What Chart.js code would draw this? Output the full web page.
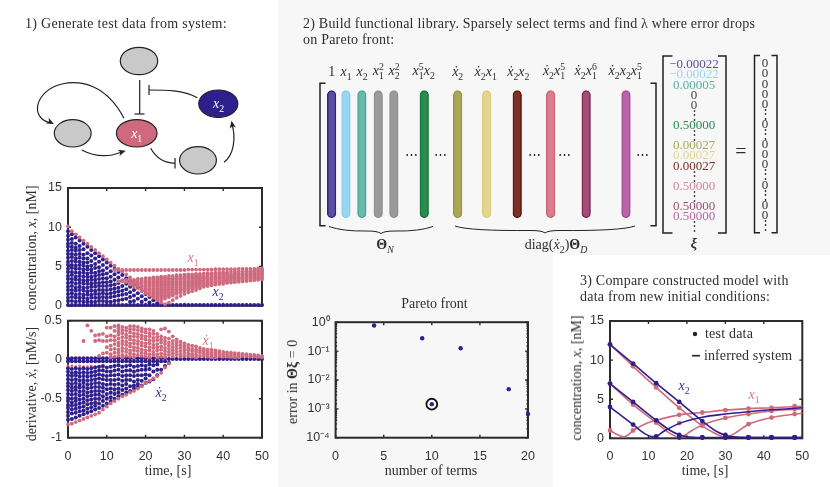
<!DOCTYPE html>
<html>
<head>
<meta charset="utf-8">
<script src="https://cdn.jsdelivr.net/npm/chart.js@4"></script>
<style>
  html, body { margin: 0; padding: 0; background: #fff; }
  #page { position: relative; width: 830px; height: 487px; overflow: hidden; background: #fff; }
  .panel { position: absolute; background: #f7f7f7; }
  canvas { position: absolute; }
  .t { position: absolute; font-family: "Liberation Serif", serif; font-size: 14px; color: #2e2e2e; white-space: nowrap; line-height: 1; }
  .c { transform: translate(-50%, -50%); }
  .r { transform: translate(-50%, -50%) rotate(-90deg); }
  sub, sup { font-size: 70%; line-height: 0; }
  .ss { display: inline-flex; flex-direction: column; vertical-align: middle; font-size: 70%; line-height: .95; margin-top: -1px; }
  .pink { color: #d3778a; }
  .blue { color: #3a2b92; }
</style>
</head>
<body>
<div id="page">
  <div class="panel" style="left:278px;top:0;width:552px;height:255px"></div>
  <div class="panel" style="left:278px;top:255px;width:275px;height:232px"></div>

  <canvas id="concChart" width="275" height="135" style="left:0;top:180px"></canvas>
  <canvas id="derivChart" width="275" height="155" style="left:0;top:315px"></canvas>
  <canvas id="libraryChart" width="330" height="140" style="left:316px;top:85px"></canvas>
  <canvas id="paretoChart" width="262" height="155" style="left:278px;top:315px"></canvas>
  <canvas id="compareChart" width="260" height="155" style="left:550px;top:315px"></canvas>
  <canvas id="sketchChart" width="830" height="487" style="left:0;top:0"></canvas>

  <div class="t" style="left:25px;top:17px;letter-spacing:.28px">1) Generate test data from system:</div>
  <div class="t" style="left:303px;top:17px;letter-spacing:.22px">2) Build functional library. Sparsely select terms and find λ where error drops</div>
  <div class="t" style="left:303px;top:33px;letter-spacing:.22px">on Pareto front:</div>
  <div class="t" style="left:580px;top:274px;letter-spacing:.22px">3) Compare constructed model with</div>
  <div class="t" style="left:580px;top:290px;letter-spacing:.22px">data from new initial conditions:</div>

  <div class="t c" style="left:136.7px;top:133.5px;color:#fff"><i>x</i><sub>1</sub></div>
  <div class="t c" style="left:218.5px;top:104px;color:#fff"><i>x</i><sub>2</sub></div>

  <div class="t r" style="left:32px;top:248px">concentration, <i>x</i>, [nM]</div>
  <div class="t r" style="left:32px;top:384px">derivative, <i>ẋ</i>, [nM/s]</div>
  <div class="t r" style="left:292.5px;top:382px">error in <b>Θξ</b> = 0</div>
  <div class="t r" style="left:576.5px;top:378px">concentration, <i>x</i>, [nM]</div>
  <div class="t c" style="left:168px;top:470.5px">time, [s]</div>
  <div class="t c" style="left:431px;top:471px">number of terms</div>
  <div class="t c" style="left:705px;top:470.5px">time, [s]</div>
  <div class="t c" style="left:434.5px;top:304px">Pareto front</div>

  <div class="t c pink" style="left:193px;top:258px"><i>x</i><sub>1</sub></div>
  <div class="t c blue" style="left:218px;top:292px"><i>x</i><sub>2</sub></div>
  <div class="t c pink" style="left:208px;top:341px"><i>ẋ</i><sub>1</sub></div>
  <div class="t c blue" style="left:161px;top:393px"><i>ẋ</i><sub>2</sub></div>
  <div class="t c blue" style="left:684px;top:386px"><i>x</i><sub>2</sub></div>
  <div class="t c pink" style="left:754px;top:395px"><i>x</i><sub>1</sub></div>
  <div class="t" style="left:705px;top:327px;letter-spacing:.2px">test data</div>
  <div class="t" style="left:704px;top:349px;letter-spacing:.1px">inferred system</div>

  <div class="t c" style="left:385px;top:245px"><b>Θ</b><sub><i>N</i></sub></div>
  <div class="t c" style="left:556px;top:245px">diag(<i>ẋ</i><sub>2</sub>)<b>Θ</b><sub><i>D</i></sub></div>
  <div class="t c" style="left:694px;top:244px;font-size:14px"><b><i>ξ</i></b></div>
  <div class="t c" style="left:741px;top:151px;font-size:20px">=</div>
  <div id="termLabels"></div>
  <div id="xiRows"></div>
</div>

<script>
const PINK = "#cf6a7e";
const BLUE = "#2f1f8c";
const INK = "#2b2b2b";

// sample times of the test data, one per column below
const sampleTimes = [0,1,2,3,4,5,6,7,8,9,10,11,12,13,14,15,16,17,18,19,20,21,22,23,24,25,26,27,28,29,30,31,32,33,34,35,36,37,38,39,40,41,42,43,44,45,46,47,48,49,50];

// x2, column per second
const x2ByTime = [
  [.1,.6,1,1.5,2,2.4,2.9,3.4,3.8,4.3,4.7,5.2,5.6,6.1,6.6,7,7.5,7.9,8.4,8.9,9.5],
  [.1,.6,1.1,1.6,2,2.5,3,3.4,3.9,4.3,4.8,5.2,5.7,6.2,6.6,7.1,7.5,8,8.5,9.1],
  [.1,.5,1,1.4,1.9,2.3,2.8,3.3,3.7,4.2,4.7,5.1,5.6,6,6.5,7,7.4,7.9,8.7],
  [.1,.6,1,1.5,2,2.4,2.9,3.3,3.8,4.2,4.7,5.2,5.6,6.1,6.6,7.1,7.6,8.3],
  [.1,.5,1,1.4,1.9,2.3,2.8,3.2,3.7,4.2,4.6,5.1,5.5,6,6.5,7.2,7.9],
  [.1,.5,.9,1.4,1.8,2.3,2.8,3.2,3.7,4.1,4.6,5,5.5,6,6.7,7.5],
  [.1,.5,1,1.4,1.9,2.4,2.8,3.3,3.7,4.2,4.6,5.1,5.7,6.4,7.1],
  [.1,.5,1,1.5,1.9,2.4,2.9,3.3,3.8,4.2,4.8,5.3,6,6.7],
  [.1,.6,1,1.5,2,2.5,2.9,3.4,3.9,4.4,4.9,5.6,6.3],
  [.1,.6,1.1,1.6,2,2.5,3,3.5,4,4.5,5.2,5.9],
  [.1,.5,1,1.5,2,2.5,3,3.5,4.1,4.8,5.5],
  [.1,.5,1.1,1.6,2.1,2.6,3.1,3.7,4.4,5.1],
  [.1,.6,1.2,1.7,2.2,2.7,3.3,4,4.7],
  [.1,.7,1.3,1.8,2.3,2.9,3.6,4.3],
  [.1,.8,1.4,1.9,2.5,3.2,3.9],
  [.1,.9,1.5,2.1,2.8,3.5],
  [.1,.5,1.1,1.7,2.4,3.1],
  [.1,.6,1.3,2,2.7],
  [.1,.9,1.6,2.3],
  [.1,.5,1.2,1.9],
  [.1,.8,1.5],
  [.1,.4,1.1],
  [.1,.7],
  [.1,.3],
  [.1],[.1],[.1],[.1],[.1],[.1],[.1],[.1],[.1],[.1],[.1],[.1],[.1],[.1],[.1],[.1],[.1],[.1],[.1],[.1],[.1],[.1],[.1],[.1],[.1],[.1],[.1]
];

// x1, drawn under x2
const x1ByTime = [
  [10.1],[9.5],[9.1],[8.7],[8.3],[7.9],[7.5],[7.1],[6.7],[6.3],[5.9],[5.5],
  [5.1,4.55],
  [4.7,4.55,3.1],
  [4.4,4.55,3.1,3.2],
  [4,4.55,3,3.3],
  [3.6,4.55,2.7,3,3.3],
  [3.2,4.55,2.4,2.7,3,3.3],
  [2.8,4.55,2.2,2.5,2.8,3.1,3.4],
  [2.4,4.55,1.9,2.2,2.5,2.8,3.1,3.4],
  [2,4.55,1.6,1.8,2,2.2,2.4,2.6,2.8,3,3.2,3.5],
  [1.6,4.55,1.3,1.5,1.7,1.9,2.1,2.3,2.5,2.7,2.9,3.1,3.3,3.5],
  [1.2,4.55,1,1.2,1.4,1.6,1.8,2,2.2,2.4,2.6,2.8,3,3.2,3.4,3.6],
  [.8,4.55,.7,1,1.2,1.4,1.6,1.8,2,2.2,2.4,2.6,2.8,3,3.2,3.4,3.6],
  [.4,4.55,.7,.9,1.1,1.3,1.5,1.7,1.9,2.1,2.3,2.5,2.7,2.9,3.1,3.3,3.5,3.7],
  [.2,4.55,.9,1.1,1.3,1.5,1.7,1.9,2.1,2.3,2.5,2.7,2.9,3.1,3.3,3.5,3.7],
  [.4,4.55,1.1,1.3,1.5,1.7,1.9,2.1,2.3,2.5,2.7,2.9,3.1,3.3,3.5,3.8],
  [.7,4.55,1.3,1.5,1.7,1.9,2.1,2.3,2.5,2.7,2.9,3.1,3.3,3.5,3.8],
  [1,4.55,1.5,1.7,1.9,2.1,2.3,2.5,2.7,2.9,3.1,3.3,3.5,3.7,3.9],
  [1.25,4.55,1.7,1.9,2.1,2.3,2.5,2.7,2.9,3.1,3.3,3.5,3.7,3.9],
  [1.5,4.55,1.9,2.1,2.3,2.5,2.7,2.9,3.1,3.3,3.5,3.7,3.95],
  [1.7,4.6,2,2.2,2.4,2.6,2.8,3,3.2,3.4,3.6,3.8,4],
  [1.85,4.6,2.2,2.4,2.6,2.8,3,3.2,3.4,3.6,3.8,4],
  [2,4.6,2.3,2.5,2.7,2.9,3.1,3.3,3.5,3.7,3.9,4.05],
  [4.6,2.2,2.4,2.6,2.8,3,3.2,3.4,3.6,3.8,4.05],
  [4.6,2.4,2.6,2.8,3,3.2,3.4,3.6,3.8,4.1],
  [4.6,2.5,2.7,2.9,3.1,3.3,3.5,3.7,3.9,4.15],
  [4.6,2.6,2.8,3,3.2,3.4,3.6,3.8,4,4.15],
  [4.65,2.7,2.9,3.1,3.3,3.5,3.7,3.9,4.2],
  [4.65,2.75,3,3.2,3.4,3.6,3.8,4,4.2],
  [4.65,2.8,3,3.2,3.4,3.6,3.8,4,4.25],
  [4.65,2.9,3.1,3.3,3.5,3.7,3.9,4.1,4.25],
  [4.65,2.95,3.2,3.4,3.6,3.8,4,4.3],
  [4.65,3,3.2,3.4,3.6,3.8,4,4.2,4.3],
  [4.7,3.05,3.3,3.5,3.7,3.9,4.1,4.35],
  [4.7,3.1,3.3,3.5,3.7,3.9,4.1,4.35],
  [4.7,3.15,3.4,3.6,3.8,4,4.2,4.4],
  [4.7,3.2,3.4,3.6,3.8,4,4.2,4.4],
  [4.7,3.25,3.5,3.7,3.9,4.1,4.3,4.45],
  [4.75,3.3,3.5,3.7,3.9,4.1,4.3,4.5],
  [4.75,3.35,3.6,3.8,4,4.2,4.4,4.55]
];

// short x1 stretches that show on top of the x2 points
const x1TopTimes = [0,0,0,1,1,1,2,2,2,3,3,3,4,4,4,5,5,5,6,6,6,7,7,8,8,9,9,10,10,11,11,12,13];
const x1TopValues = [5.4,4.4,2,5,4,1.6,4.6,3.6,1.3,4.2,3.2,1,3.8,2.8,.7,3.4,2.4,.5,3,2.1,.3,2.6,1.7,2.2,1.3,1.8,1,1.4,.7,1,.4,.7,.4];

// dx2/dt
const dx2ByTime = [
  [.02,-.02,-.11,-.15,-.2,-.25,-.3,-.34,-.39,-.44,-.49,-.53,-.58,-.62,-.67,-.72,-.77],
  [.02,-.02,-.12,-.17,-.21,-.26,-.31,-.36,-.4,-.45,-.5,-.55,-.59,-.64,-.69,-.76],
  [.02,-.02,-.11,-.16,-.2,-.25,-.3,-.35,-.39,-.44,-.49,-.53,-.58,-.63,-.68,-.74],
  [.02,-.02,-.12,-.17,-.22,-.27,-.32,-.36,-.41,-.46,-.51,-.56,-.61,-.66,-.72],
  [.02,-.02,-.11,-.16,-.21,-.26,-.3,-.35,-.4,-.45,-.5,-.55,-.6,-.65,-.7],
  [.02,-.02,-.12,-.17,-.22,-.27,-.32,-.37,-.42,-.47,-.52,-.57,-.63,-.68],
  [.02,-.02,-.11,-.16,-.21,-.26,-.31,-.36,-.41,-.46,-.51,-.56,-.61,-.66],
  [.02,-.02,-.1,-.15,-.2,-.25,-.3,-.35,-.4,-.45,-.5,-.55,-.59,-.64],
  [.02,-.02,-.09,-.14,-.19,-.24,-.3,-.35,-.4,-.45,-.5,-.56,-.62],
  [.02,-.02,-.08,-.14,-.2,-.25,-.31,-.36,-.41,-.47,-.53,-.59],
  [.02,-.02,-.1,-.15,-.21,-.26,-.32,-.38,-.44,-.5,-.56],
  [.02,-.02,-.09,-.15,-.2,-.26,-.31,-.37,-.42,-.48,-.53],
  [.02,-.02,-.08,-.14,-.2,-.26,-.32,-.38,-.44,-.5],
  [.02,-.02,-.07,-.13,-.19,-.25,-.31,-.37,-.42,-.47],
  [.02,-.02,-.09,-.15,-.21,-.27,-.33,-.39,-.45],
  [.02,-.02,-.08,-.14,-.2,-.26,-.31,-.37,-.42],
  [.02,-.02,-.07,-.14,-.2,-.26,-.34,-.4],
  [.02,-.02,-.09,-.15,-.21,-.28,-.33,-.37],
  [.02,-.02,-.08,-.14,-.2,-.26,-.31,-.35],
  [.02,-.02,-.07,-.13,-.2,-.27,-.33],
  [.02,-.02,-.08,-.13,-.19,-.24,-.3],
  [.02,-.02,-.06,-.12,-.2,-.28],
  [.02,-.02,-.07,-.15,-.25],
  [.02,-.02,-.06,-.13,-.2],
  [.02,-.02,-.13],
  [.02,-.02,-.08],
  [.01,-.04],
  [.01],[.01],[.01],[.01],[.01],[.01],[.01],[.01],[.01],[.01],[.01],[.01],[.01],[.01],[.01],[.01],[.01],[.01],[.01],[.01],[.01],[.01],[.01],[.01]
];

// dx1/dt, drawn under dx2
const dx1ByTime = [
  [-.83],[-.82],[-.8],[-.78],
  [.24,-.76],
  [.44,-.74],
  [.37,-.72],
  [.31,.24,-.7],
  [.32,.25,.05,-.68],
  [.33,.24,.08,-.64],
  [.41,.3,.24,.16,.09,-.6],
  [.41,.31,.25,.18,.13,.07,.03,-.56],
  [.43,.37,.3,.25,.2,.14,.09,.04,-.53],
  [.44,.4,.36,.32,.27,.22,.18,.13,.09,.05,-.5],
  [.42,.38,.34,.29,.24,.2,.15,.11,.06,.03,-.47],
  [.41,.37,.32,.28,.23,.19,.14,.1,.05,-.45],
  [.43,.39,.35,.3,.26,.21,.17,.12,.08,.04,-.42],
  [.43,.39,.34,.3,.25,.21,.16,.12,.07,.03,-.4],
  [.42,.38,.33,.29,.24,.2,.15,.11,.06,-.37],
  [.4,.36,.31,.27,.22,.18,.13,.09,.05,-.34],
  [.39,.35,.3,.26,.21,.17,.12,.08,.04,-.3],
  [.39,.34,.3,.25,.21,.16,.12,.07,.03,-.27],
  [.37,.33,.28,.24,.19,.15,.1,.06,-.24],
  [.33,.29,.25,.2,.16,.12,.07,.03,-.21],
  [.39,.3,.26,.22,.17,.13,.08,.04,-.17],
  [.4,.28,.24,.2,.15,.11,.07,.03,-.1],
  [.36,.27,.22,.18,.14,.1,.06,-.05],
  [.3,.24,.2,.16,.12,.08,.04],
  [.26,.22,.18,.14,.1,.06],
  [.23,.19,.15,.11,.07,.04],
  [.21,.17,.13,.09,.05],
  [.19,.15,.12,.08,.05],
  [.18,.14,.11,.07,.04],
  [.17,.13,.1,.06,.03],
  [.15,.12,.09,.05],
  [.14,.11,.08,.05],
  [.13,.1,.07,.04],
  [.125,.09,.06,.03],
  [.12,.09,.06,.03],
  [.11,.08,.05],
  [.1,.07,.04],
  [.095,.065,.04],
  [.09,.06,.035],
  [.085,.06,.03],
  [.08,.055,.03],
  [.075,.05],
  [.07,.045],
  [.065,.04],
  [.06,.04],
  [.055,.035],
  [.05,.03]
];

// rows of dx1 that stand out on top of dx2
const dx1TopTimes = [0,1,2,3,4,5,6,7,8,9,0,1,2,3,4,5,6,0,1,2,3,4,8,9,10,11,12,13,15,16,17];
const dx1TopValues = [-.08,-.08,-.09,-.08,-.09,-.09,-.08,-.09,-.1,-.1,-.34,-.33,-.34,-.35,-.35,-.36,-.35,-.6,-.58,-.57,-.55,-.54,-.52,-.5,-.47,-.44,-.41,-.39,-.23,-.12,-.17];

// Pareto front
const termCounts = [4, 9, 13, 18, 10, 20];
const termErrors = [0.77, 0.277, 0.126, 0.0048, 0.00145, 0.00066];
const chosenTerms = [10];
const chosenError = [0.00145];

// step 3, test data every 6 s
const testTimes = [0, 6, 12, 18, 24, 30, 36, 42, 48];
const testX1a = [12, 9.2, 6.5, 3.9, 1.6, .2, 1.8, 2.65, 3.1];
const testX1b = [7, 4.3, 2, .2, 1.7, 2.6, 3.1, 3.5, 3.7];
const testX1c = [1, 1, 2.3, 3, 3.3, 3.6, 3.8, 3.9, 4.1];
const testX2a = [12, 9.55, 7.05, 4.65, 2.2, .45, .1, .1, .1];
const testX2b = [7, 4.65, 2.3, .45, .1, .1, .1, .1, .1];
const testX2c = [4, 1.75, .25, .1, .1, .1, .1, .1, .1];
const testExtraT = [18];
const testExtra = [1.95];

// inferred system curves, each with its own times because of the sharp minima
const modelX1aT = [0, 6, 12, 18, 24, 27, 29, 30, 31, 33, 36, 42, 50];
const modelX1a = [12, 9.2, 6.5, 3.9, 1.6, .7, .25, .15, .25, .8, 1.8, 2.65, 3.2];
const modelX1bT = [0, 6, 12, 16, 18, 19, 21, 24, 30, 36, 42, 50];
const modelX1b = [7, 4.3, 2, .5, .15, .25, .9, 1.7, 2.6, 3.1, 3.5, 3.75];
const modelX1cT = [0, 2, 3.5, 4.5, 6, 9, 12, 18, 24, 30, 36, 42, 50];
const modelX1c = [1, .45, .2, .35, 1, 1.8, 2.3, 3, 3.3, 3.6, 3.8, 3.9, 4.1];
const modelX2aT = [0, 6, 12, 18, 24, 28, 30, 32, 36, 50];
const modelX2a = [12, 9.55, 7.05, 4.65, 2.2, .8, .4, .2, .1, .1];
const modelX2bT = [0, 6, 12, 16, 18, 20, 24, 50];
const modelX2b = [7, 4.65, 2.3, .9, .45, .2, .1, .1];
const modelX2cT = [0, 6, 9, 11, 12, 14, 18, 24, 30, 36, 42, 50];
const modelX2c = [4, 1.75, .6, .22, .25, .9, 1.9, 2.7, 3.1, 3.4, 3.65, 3.9];

// library columns: where each term sits along the matrix, and its colour
const libraryColumn = [1, 1.92, 2.94, 3.99, 4.99, 6.94, 9.08, 10.94, 12.9, 15.04, 17.32, 19.87];
const libraryEdge = ["#332288", "#88ccee", "#44aa99", "#909090", "#909090", "#117733", "#999933", "#ddcc77", "#661100", "#cc6677", "#882255", "#aa4499"];
const libraryFill = ["#5a4fa0", "#9bd6f1", "#6cb8ab", "#9a9a9a", "#9a9a9a", "#2a8a50", "#a8a858", "#e3d68f", "#7a3228", "#d87e8e", "#9e4f78", "#b865a8"];
const libraryTerms = [
  "1", "<i>x</i><sub>1</sub>", "<i>x</i><sub>2</sub>",
  "<i>x</i><span class='ss'><span>2</span><span>1</span></span>", "<i>x</i><span class='ss'><span>2</span><span>2</span></span>",
  "<i>x</i><span class='ss'><span>5</span><span>1</span></span><i>x</i><sub>2</sub>", "<i>ẋ</i><sub>2</sub>", "<i>ẋ</i><sub>2</sub><i>x</i><sub>1</sub>",
  "<i>ẋ</i><sub>2</sub><i>x</i><sub>2</sub>", "<i>ẋ</i><sub>2</sub><i>x</i><span class='ss'><span>5</span><span>1</span></span>",
  "<i>ẋ</i><sub>2</sub><i>x</i><span class='ss'><span>6</span><span>1</span></span>", "<i>ẋ</i><sub>2</sub><i>x</i><sub>2</sub><i>x</i><span class='ss'><span>5</span><span>1</span></span>"
];
const termLabelX = [331.7, 346, 362, 378.3, 394, 423.7, 457.7, 485.7, 518.3, 554, 585.7, 625.3];
const ellipsisX = [411, 440, 534.3, 564.7, 642.3];

// coefficient vector, one row per line
const xiValues = ["−0.00022", "−0.00022", "0.00005", "0", "0", "⋮", "0.50000", "⋮", "0.00027", "0.00027", "0.00027", "⋮", "0.50000", "⋮", "0.50000", "0.50000", "⋮"];
const xiColors = ["#5a4fa0", "#9bd6f1", "#55b0a0", "#444", "#444", "#444", "#2a8a50", "#444", "#a8a858", "#e3d68f", "#7a3228", "#444", "#d08a9a", "#444", "#9e4f78", "#b865a8", "#444"];
const zeroValues = ["0", "0", "0", "0", "0", "⋮", "0", "⋮", "0", "0", "0", "⋮", "0", "⋮", "0", "0", "⋮"];

function flatten(columns) {
    const points = [];
    columns.forEach((col, i) => col.forEach((v) => points.push({ x: sampleTimes[i], y: v })));
    return points;
}

function zip(xs, ys) {
    return xs.map((x, i) => ({ x, y: ys[i] }));
}

// box with inward ticks on all four sides, like the original axes
const boxFrame = {
    id: "boxFrame",
    beforeDatasetsDraw(chart) {
        const { ctx, chartArea: a, scales } = chart;
        ctx.save();
        ctx.strokeStyle = INK;
        ctx.lineWidth = 1.4;
        ctx.beginPath();
        scales.x.ticks.forEach((t) => {
            const px = scales.x.getPixelForValue(t.value);
            ctx.moveTo(px, a.bottom); ctx.lineTo(px, a.bottom - 3);
            ctx.moveTo(px, a.top); ctx.lineTo(px, a.top + 3);
        });
        scales.y.ticks.forEach((t) => {
            const py = scales.y.getPixelForValue(t.value);
            const log = Math.log10(Math.abs(t.value) || 1);
            const len = scales.y.type === "logarithmic" && Math.abs(log - Math.round(log)) > 1e-6 ? 1.5 : 3;
            ctx.moveTo(a.left, py); ctx.lineTo(a.left + len, py);
            ctx.moveTo(a.right, py); ctx.lineTo(a.right - len, py);
        });
        ctx.stroke();
        ctx.lineWidth = 2;
        ctx.strokeRect(a.left, a.top, a.right - a.left, a.bottom - a.top);
        ctx.restore();
    },
};

// fixed axis size and no room for overhanging labels, so plot boxes land where the original has them
function fixBox(scale, size) {
    if (scale.isHorizontal()) scale.height = size;
    else scale.width = size;
    scale.paddingLeft = scale.paddingRight = scale.paddingTop = scale.paddingBottom = 0;
}

function xAxis(max, step, labelled, height) {
    return {
        type: "linear",
        min: 0,
        max,
        afterFit: (s) => fixBox(s, height),
        grid: { drawOnChartArea: false, drawTicks: false },
        border: { display: false },
        ticks: {
            stepSize: step,
            padding: 11,
            color: "#333",
            maxRotation: 0,
            font: { family: "Liberation Sans", size: 12.5 },
            callback: (v) => (labelled ? v : ""),
        },
    };
}

function yAxis(min, max, step, width) {
    return {
        type: "linear",
        min,
        max,
        afterFit: (s) => fixBox(s, width),
        grid: { drawOnChartArea: false, drawTicks: false },
        border: { display: false },
        ticks: {
            stepSize: step,
            padding: 6,
            color: "#333",
            font: { family: "Liberation Sans", size: 12.5 },
            callback: (v) => String(v),
        },
    };
}

function dots(data, color, radius) {
    return { data, showLine: false, clip: false, pointRadius: radius, pointBorderWidth: 0, pointBackgroundColor: color };
}

function curve(data, color) {
    return { data, showLine: true, clip: false, pointRadius: 0, borderColor: color, borderWidth: 1.6, cubicInterpolationMode: "monotone" };
}

function baseOptions(scales, padding) {
    return {
        responsive: false,
        animation: false,
        events: [],
        layout: { padding },
        plugins: { legend: { display: false }, tooltip: { enabled: false } },
        scales,
    };
}

new Chart(document.getElementById("concChart"), {
    type: "scatter",
    data: {
        datasets: [
            dots(flatten(x1ByTime), PINK, 1.9),
            dots(flatten(x2ByTime), BLUE, 2),
            dots(zip(x1TopTimes, x1TopValues), PINK, 1.4),
        ],
    },
    options: baseOptions({ x: xAxis(50, 10, false, 9.3), y: yAxis(0, 15, 5, 68) }, { top: 8, right: 13, left: 0, bottom: 0 }),
    plugins: [boxFrame],
});

new Chart(document.getElementById("derivChart"), {
    type: "scatter",
    data: {
        datasets: [
            dots(flatten(dx1ByTime), PINK, 1.9),
            dots(flatten(dx2ByTime), BLUE, 2),
            dots(zip(dx1TopTimes, dx1TopValues), PINK, 1.4),
        ],
    },
    options: baseOptions({ x: xAxis(50, 10, true, 32.3), y: yAxis(-1, 0.5, 0.5, 68) }, { top: 5.7, right: 13, left: 0, bottom: 0 }),
    plugins: [boxFrame],
});

new Chart(document.getElementById("libraryChart"), {
    type: "bar",
    data: {
        datasets: [{
            data: libraryColumn.map((c) => ({ x: c, y: [0, 1] })),
            backgroundColor: libraryFill,
            borderColor: libraryEdge,
            borderWidth: 1.5,
            borderRadius: 4.5,
            borderSkipped: false,
            barThickness: 8.6,
            clip: false,
        }],
    },
    options: baseOptions({
        x: { type: "linear", min: 0, max: 20, offset: false, display: false },
        y: { min: 0, max: 1, display: false },
    }, { top: 5.7, bottom: 7.3, left: 0, right: 18 }),
});

new Chart(document.getElementById("paretoChart"), {
    type: "scatter",
    data: {
        datasets: [
            dots(zip(termCounts, termErrors), BLUE, 2.2),
            { data: zip(chosenTerms, chosenError), showLine: false, clip: false, pointRadius: 5.4, pointBorderWidth: 1.8, pointBorderColor: "#111", pointBackgroundColor: "transparent" },
        ],
    },
    options: baseOptions({
        x: xAxis(20, 5, true, 32.3),
        y: {
            type: "logarithmic",
            min: 0.0001,
            max: 1,
            afterFit: (s) => fixBox(s, 57.6),
            grid: { drawOnChartArea: false, drawTicks: false },
            border: { display: false },
            ticks: {
                autoSkip: false,
                padding: 6,
                color: "#333",
                font: { family: "Liberation Sans", size: 12.5 },
                callback: (v) => ({ 1: "10⁰", 0.1: "10⁻¹", 0.01: "10⁻²", 0.001: "10⁻³", 0.0001: "10⁻⁴" }[v] || ""),
            },
        },
    }, { top: 5.7, right: 12, left: 0, bottom: 0 }),
    plugins: [boxFrame],
});

new Chart(document.getElementById("compareChart"), {
    type: "scatter",
    data: {
        datasets: [
            curve(zip(modelX2aT, modelX2a), BLUE),
            curve(zip(modelX2bT, modelX2b), BLUE),
            curve(zip(modelX2cT, modelX2c), BLUE),
            dots(zip(testTimes, testX2a), BLUE, 2.4),
            dots(zip(testTimes, testX2b), BLUE, 2.4),
            dots(zip(testTimes, testX2c), BLUE, 2.4),
            curve(zip(modelX1aT, modelX1a), PINK),
            curve(zip(modelX1bT, modelX1b), PINK),
            curve(zip(modelX1cT, modelX1c), PINK),
            dots(zip(testTimes, testX1a), PINK, 2.4),
            dots(zip(testTimes, testX1b), PINK, 2.4),
            dots(zip(testTimes, testX1c), PINK, 2.4),
            dots(zip(testExtraT, testExtra), PINK, 2.4),
        ],
    },
    options: baseOptions({ x: xAxis(50, 10, true, 31.7), y: yAxis(0, 15, 5, 60) }, { top: 6, right: 7.7, left: 0, bottom: 0 }),
    plugins: [boxFrame],
});

// network sketch, matrix brackets and braces, legend marks: drawn over the page
function ellipse(ctx, x, y, rx, ry, fill) {
    ctx.beginPath();
    ctx.ellipse(x, y, rx, ry, 0, 0, Math.PI * 2);
    ctx.fillStyle = fill;
    ctx.fill();
    ctx.stroke();
}

function bezier(ctx, pts) {
    ctx.beginPath();
    ctx.moveTo(pts[0], pts[1]);
    ctx.bezierCurveTo(pts[2], pts[3], pts[4], pts[5], pts[6], pts[7]);
    ctx.stroke();
}

function segment(ctx, x1, y1, x2, y2) {
    ctx.beginPath();
    ctx.moveTo(x1, y1);
    ctx.lineTo(x2, y2);
    ctx.stroke();
}

function arrowHead(ctx, x, y, angle) {
    ctx.save();
    ctx.translate(x, y);
    ctx.rotate(angle);
    ctx.beginPath();
    ctx.moveTo(0, 0);
    ctx.lineTo(-7.5, -3.2);
    ctx.lineTo(-5.5, 0);
    ctx.lineTo(-7.5, 3.2);
    ctx.closePath();
    ctx.fillStyle = "#222";
    ctx.fill();
    ctx.restore();
}

function bracket(ctx, x, top, bottom, foot) {
    ctx.beginPath();
    ctx.moveTo(x + foot, top);
    ctx.lineTo(x, top);
    ctx.lineTo(x, bottom);
    ctx.lineTo(x + foot, bottom);
    ctx.stroke();
}

function underBrace(ctx, left, right, y) {
    const mid = (left + right) / 2;
    ctx.beginPath();
    ctx.moveTo(left, y);
    ctx.quadraticCurveTo(left + 14, y + 5, mid - 14, y + 4.5);
    ctx.quadraticCurveTo(mid - 3, y + 4.5, mid, y + 7);
    ctx.quadraticCurveTo(mid + 3, y + 4.5, mid + 14, y + 4.5);
    ctx.quadraticCurveTo(right - 14, y + 5, right, y);
    ctx.stroke();
}

const sketch = {
    id: "sketch",
    afterDraw(chart) {
        const ctx = chart.ctx;
        ctx.save();
        ctx.strokeStyle = "#222";
        ctx.lineWidth = 1.2;

        ellipse(ctx, 139, 61, 18.7, 13.7, "#c9c9c9");
        ellipse(ctx, 72.7, 133.3, 18.4, 13.7, "#c9c9c9");
        ellipse(ctx, 198, 160.3, 18.4, 13.7, "#c9c9c9");
        ellipse(ctx, 136.7, 133.3, 20.3, 13.7, "#cf6a7e");
        ellipse(ctx, 218.3, 103.7, 19.5, 13.7, "#2f1f8c");

        segment(ctx, 139.7, 80, 139.7, 114);
        segment(ctx, 134.5, 114, 144.5, 114);
        bezier(ctx, [197.3, 97.7, 183, 90, 165, 90, 149, 90]);
        segment(ctx, 149, 85, 149, 95);
        bezier(ctx, [124, 118.3, 106, 84, 80, 80, 62, 84]);
        bezier(ctx, [62, 84, 36, 90, 28, 118, 51, 123]);
        arrowHead(ctx, 54, 124, 0.45);
        bezier(ctx, [81.7, 150, 95, 157, 108, 158, 123, 151.5]);
        arrowHead(ctx, 125.7, 150.7, -0.3);
        bezier(ctx, [150.7, 148.3, 156, 158, 164, 163, 175, 163.3]);
        segment(ctx, 175, 158, 175, 168.5);
        bezier(ctx, [224, 162.3, 234, 155, 236, 138, 232, 124]);
        arrowHead(ctx, 231.5, 120.7, -1.75);

        // Theta matrix, xi and the zero vector
        ctx.lineWidth = 1.5;
        bracket(ctx, 320, 83.3, 225.7, 5.5);
        bracket(ctx, 656, 83.3, 225.7, -5.5);
        bracket(ctx, 663, 56, 233, 9.5);
        bracket(ctx, 726, 56, 233, -8);
        bracket(ctx, 754.5, 55.5, 232.7, 5.5);
        bracket(ctx, 777, 55.5, 232.7, -5.5);
        ctx.lineWidth = 1;
        underBrace(ctx, 329, 433, 226.5);
        underBrace(ctx, 455, 635, 226);

        // legend marks of the third plot
        ctx.fillStyle = "#222";
        ctx.beginPath();
        ctx.arc(695, 334, 2.2, 0, Math.PI * 2);
        ctx.fill();
        ctx.lineWidth = 1.6;
        segment(ctx, 692, 355.7, 700, 355.7);
        ctx.restore();
    },
};

new Chart(document.getElementById("sketchChart"), {
    type: "scatter",
    data: { datasets: [] },
    options: baseOptions({ x: { min: 0, max: 830, display: false }, y: { min: 0, max: 487, reverse: true, display: false } }, 0),
    plugins: [sketch],
});

// text over the matrix
function addText(parent, html, x, y, color, size) {
    const el = document.createElement("div");
    el.className = "t c";
    el.innerHTML = html;
    el.style.left = x + "px";
    el.style.top = y + "px";
    if (color) el.style.color = color;
    if (size) el.style.fontSize = size + "px";
    parent.appendChild(el);
}

const termBox = document.getElementById("termLabels");
libraryTerms.forEach((term, i) => addText(termBox, term, termLabelX[i], 72));
ellipsisX.forEach((x) => addText(termBox, "⋯", x, 154, "#222", 13));

const rowBox = document.getElementById("xiRows");
xiValues.forEach((v, i) => addText(rowBox, v, 694, 63.3 + i * 10.12, xiColors[i], 13));
zeroValues.forEach((v, i) => addText(rowBox, v, 765, 62.3 + i * 10.1, "#333", 13));
</script>
</body>
</html>
